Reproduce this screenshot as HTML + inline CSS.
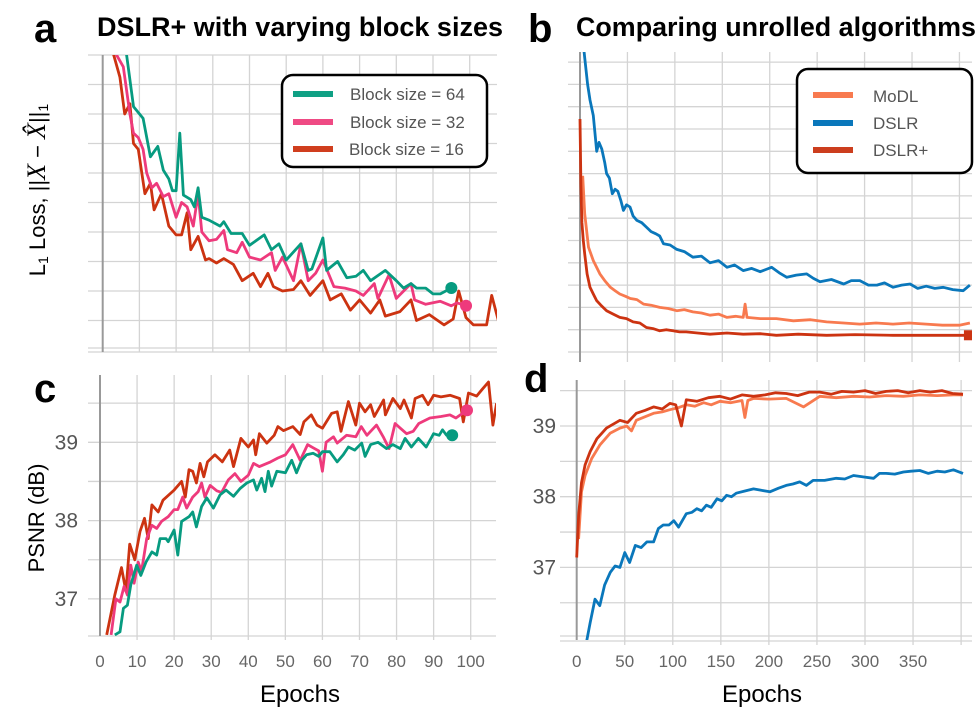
<!DOCTYPE html>
<html><head><meta charset="utf-8"><style>
body{margin:0;background:#fff}
svg{display:block;font-family:"Liberation Sans",sans-serif}
</style></head><body>
<svg id="fig" width="977" height="714" viewBox="0 0 977 714" xmlns="http://www.w3.org/2000/svg">
<defs>
<clipPath id="clipA"><rect x="88" y="55" width="409" height="297"/></clipPath>
<clipPath id="clipB"><rect x="568" y="52" width="404" height="310"/></clipPath>
<clipPath id="clipC"><rect x="88" y="375" width="408" height="261"/></clipPath>
<clipPath id="clipD"><rect x="560" y="380" width="412" height="260"/></clipPath>
</defs>
<g id="grids"></g>
<g id="series"></g>
<g id="texts">
<text x="34" y="42" font-size="40" font-weight="bold">a</text>
<text x="528" y="42" font-size="40" font-weight="bold">b</text>
<text x="34" y="402" font-size="40" font-weight="bold">c</text>
<text x="524" y="392" font-size="40" font-weight="bold">d</text>
<text x="97" y="36" font-size="26.5" font-weight="bold" textLength="406" lengthAdjust="spacingAndGlyphs">DSLR+ with varying block sizes</text>
<text x="576" y="36" font-size="26.5" font-weight="bold" textLength="400" lengthAdjust="spacingAndGlyphs">Comparing unrolled algorithms</text>
<text transform="translate(45,190) rotate(-90)" text-anchor="middle" font-size="22">L<tspan font-size="14" dy="3">1</tspan><tspan dy="-3"> Loss, ||</tspan><tspan font-style="italic" font-family="Liberation Serif" font-size="26">X</tspan> − <tspan font-style="italic" font-family="Liberation Serif" font-size="26">X̂</tspan>||<tspan font-size="14" dy="3">1</tspan></text>
<text transform="translate(44,518) rotate(-90)" text-anchor="middle" font-size="22">PSNR (dB)</text>
<text x="300" y="702" text-anchor="middle" font-size="24">Epochs</text>
<text x="762" y="702" text-anchor="middle" font-size="24">Epochs</text>
</g>
<g id="legends">
<rect x="282" y="75" width="205" height="92" rx="11" fill="#fff" stroke="#000" stroke-width="2.5"/>
<line x1="293" y1="94" x2="333" y2="94" stroke="#0fa084" stroke-width="6"/>
<text x="350" y="100" font-size="17" fill="#555">Block size = 64</text>
<line x1="293" y1="122" x2="333" y2="122" stroke="#ef4a84" stroke-width="6"/>
<text x="350" y="128" font-size="17" fill="#555">Block size = 32</text>
<line x1="293" y1="149" x2="333" y2="149" stroke="#d03e1e" stroke-width="6"/>
<text x="349" y="155" font-size="17" fill="#555">Block size = 16</text>
<rect x="797" y="69" width="175" height="104" rx="11" fill="#fff" stroke="#000" stroke-width="2.5"/>
<line x1="813" y1="95" x2="853" y2="95" stroke="#f87a4f" stroke-width="6"/>
<text x="873" y="102" font-size="17" fill="#555">MoDL</text>
<line x1="813" y1="123" x2="853" y2="123" stroke="#0a77bb" stroke-width="6"/>
<text x="873" y="129" font-size="17" fill="#555">DSLR</text>
<line x1="813" y1="150" x2="853" y2="150" stroke="#cc3e1e" stroke-width="6"/>
<text x="873" y="156" font-size="17" fill="#555">DSLR+</text>
</g>
</svg>
<script>
// ---- Panel a: loss (arbitrary grid units) ----
const aEp64 = [5,6.5,8.4,11,13,15,16.5,18,19,20,21,22,24,25,26,27,29,32,33,35,38,40,44,46,48,50,54,56,57,60,61,64,66.5,69,71,73,77,80,82,84,85.5,88,90,92,95];
const aLoss64 = [11,10,8.25,7.85,6.55,6.9,6.1,5.8,5.4,5.4,7.35,5.25,5.1,4.85,5.5,4.5,4.4,4.2,4.35,3.95,3.95,3.55,3.9,3.4,3.6,3.05,3.6,2.7,2.75,3.8,2.7,3.0,2.45,2.5,2.7,2.35,2.7,2.35,2.1,2.25,2.1,2.1,1.9,1.9,2.1];
const aEp32 = [2.5,3.8,5.6,7.4,8.4,9.7,11,12,13.4,14.7,16.5,18,20,21.5,23,24.7,26,27,29,31,33,34,36.5,38,40,43,46,47,49,52,54,56,58,60,63,66,69,71,74,75,78,80,84,85,88,92,95,96.5,99];
const aLoss32 = [11,10,9.6,8.0,7.35,7.2,6.8,6.0,5.5,5.65,5.2,5.3,4.5,5.0,4.85,4.2,5.3,4.0,3.7,3.75,4.05,3.4,3.3,3.65,3.15,3.05,3.3,2.7,3.15,2.35,3.6,2.35,2.6,3.05,2.15,2.1,2.0,1.85,2.25,1.75,2.55,1.75,2.25,1.7,1.55,1.65,1.5,1.6,1.5];
const aEp16 = [2,3,4.7,6,7.4,8.4,9.7,11.5,13,14,16,18,20,21.5,23,24,26,28,29,31,33,35.6,38,41,43,45,46.5,49,52,54,56.5,60,62,65,67.5,70,73,75.5,77,81,84,85.5,89,93,95.5,97,99,101,104.6,106,108];
const aLoss16 = [11,10,9.25,8.0,8.35,7.0,6.8,5.3,5.65,4.75,5.3,4.2,3.9,3.9,4.65,3.4,3.85,3.05,3.1,2.95,3.1,2.9,2.35,2.6,2.15,2.6,2.15,2.0,2.05,2.35,1.85,2.35,1.7,1.9,1.35,1.7,1.25,1.7,1.15,1.3,1.7,1.0,1.2,0.85,1.05,2.0,1.1,0.85,0.85,1.85,0.9];
// ---- Panel b: loss ----
const bEpDSLR = [3,5,8,10.5,14,17.6,20,23,26,28,31,34,37,40,43,45.7,49,52.7,56,60,65,70,75,80,84,88,95,102,110,119,128,137,146,155,163,172,181,190,196,202,210,218,228,239,246,253,265,278,286,295,304,313,321,330,339,348,356,365,374,383,393,404,411];
const bLossDSLR = [14,13.2,12,11.3,10.6,9.0,9.4,9.1,8.5,8.0,7.8,7.1,7.3,7.2,6.8,6.35,6.6,6.5,6.1,5.9,5.8,5.6,5.4,5.3,5.2,4.85,4.8,4.6,4.5,4.25,4.3,4.0,4.1,3.8,3.9,3.65,3.75,3.6,3.7,3.8,3.55,3.35,3.45,3.5,3.3,3.15,3.25,3.05,3.2,3.2,3.0,3.0,3.1,2.9,3.0,3.05,2.85,2.95,2.85,2.9,2.8,2.75,3.0];
const bEpMoDL = [2.8,5,9,14,21,26,32,37,42,48,53,60,67,75,84,93,102,110,119,128,137,146,155,164,172,174,176,190,207,225,243,260,278,295,312,330,347,365,382,400,411];
const bLossMoDL = [7.9,6.2,4.7,4.1,3.5,3.2,2.9,2.75,2.6,2.5,2.4,2.35,2.15,2.1,2.0,1.95,1.85,1.9,1.8,1.75,1.65,1.7,1.55,1.6,1.55,2.15,1.55,1.5,1.5,1.4,1.45,1.35,1.3,1.25,1.3,1.25,1.3,1.25,1.2,1.2,1.3];
const bEpPlus = [0,1,2,3.5,5,7.5,10.5,14,17.6,22,28,35,42,49,56,63,70,77,84,91,98,105,112,124,137,155,172,190,207,230,260,290,330,365,400,410];
const bLossPlus = [10.45,7.5,5.8,5.0,4.4,3.5,2.9,2.6,2.3,2.1,1.85,1.7,1.55,1.5,1.35,1.3,1.1,1.05,0.95,1.0,0.95,0.9,0.9,0.85,0.8,0.85,0.8,0.82,0.75,0.8,0.75,0.78,0.75,0.75,0.75,0.75];
// ---- Panel c: PSNR ----
const cEp16 = [1.8,4,5.8,7,8,9.4,10.8,12,13,14,15.7,17,20,22,23,24,25,26,27,28,29,31,33,35,36,38,40,41.4,42,43,45,47,48,49.5,52,54,55,57,58.5,60,62.5,64,65,67,69,70,71.5,73,74,76.5,77,79,81,82,84,85,87,88.5,90,92,94.5,97,98,99.4,101.6,103,104.8,106,107];
const cPsnr16 = [36.54,37.05,37.4,37.1,37.7,37.5,37.86,38.03,37.77,38.2,38.11,38.26,38.39,38.5,38.3,38.65,38.63,38.48,38.73,38.56,38.75,38.84,38.75,38.9,38.69,39.05,38.94,39.03,38.84,39.11,38.99,39.09,39.2,39.15,39.2,39.1,39.26,39.35,39.22,39.18,39.37,39.39,39.14,39.52,39.22,39.5,39.39,39.48,39.33,39.54,39.35,39.56,39.43,39.54,39.31,39.56,39.6,39.48,39.6,39.58,39.6,39.56,39.26,39.63,39.59,39.67,39.77,39.22,39.5];
const cEp32 = [3,4.3,5.4,6.5,7.4,8.3,9.2,10.3,11.2,12.6,14,15.3,16.6,18.4,20,21,22.3,23.4,25,26.5,27.4,28.3,29.7,31.5,32.8,34.6,36.4,38,40,41.4,43,46,48,50,52,54,56,57.5,59,60,61,63,64,66.5,69,70.5,72,74.6,76.4,78,79.6,81,82.7,84.5,86,89,92,94.4,96,99];
const cPsnr32 = [36.54,37.0,36.96,37.16,37.05,37.43,37.2,37.47,37.35,37.77,37.94,37.9,37.99,38.05,38.14,38.14,38.3,38.16,38.3,38.37,38.48,38.3,38.45,38.38,38.36,38.52,38.6,38.5,38.58,38.73,38.69,38.75,38.8,38.84,38.97,38.77,38.97,38.93,38.89,38.63,39.0,39.07,38.99,39.09,39.07,39.2,39.09,39.22,39.07,38.92,39.24,39.18,39.11,39.14,39.24,39.31,39.33,39.35,39.31,39.41];
const cEp64 = [4,5.4,6.3,7.4,8.3,9.9,11,12.4,14,15.3,16.2,17.8,18.4,20,21,22,24,25,26,27.4,28.8,30.6,32.4,34,36,37.8,39.6,41.4,42.3,43.6,44.5,45.4,46.3,47.7,50,51.7,53,54.4,55.7,57.5,59,60,62,64,65.6,67,68.7,70.6,71.5,73,75,77.3,79,81,82.3,84,85.9,88,90,91.5,92.4,93.5,95];
const cPsnr64 = [36.54,36.58,36.88,36.92,37.18,37.43,37.3,37.47,37.6,37.56,37.77,37.77,37.73,37.88,37.56,37.99,38.05,38.11,37.92,38.18,38.29,38.16,38.33,38.39,38.31,38.41,38.48,38.52,38.39,38.54,38.37,38.63,38.44,38.63,38.61,38.77,38.61,38.77,38.84,38.86,38.82,38.88,38.88,38.75,38.84,38.94,38.9,38.99,38.82,38.97,39.0,38.92,38.97,38.92,39.05,38.94,39.05,38.94,39.11,39.09,39.16,39.09,39.09];
// ---- Panel d: PSNR ----
const dEpPlus = [0,2,5,8.7,14,21,31,45,53,62,71,80,89,97,103,109,114,125,137,149,160,172,184,196,207,218,230,242,253,265,276,288,300,311,322,334,345,357,368,380,391,402];
const dPsnrPlus = [37.14,37.73,38.2,38.45,38.64,38.82,38.97,39.08,39.05,39.18,39.22,39.27,39.24,39.32,39.3,39.0,39.37,39.35,39.4,39.42,39.38,39.44,39.42,39.44,39.47,39.46,39.43,39.48,39.48,39.45,39.49,39.48,39.5,39.46,39.49,39.5,39.47,39.5,39.48,39.5,39.46,39.45];
const dEpMoDL = [2,5,8.7,15.6,24,35,45,52,57,62,71,80,89,97,106,114,123,132,140,149,160,172,175,178,184,200,218,236,253,270,288,305,322,340,357,375,392,402];
const dPsnrMoDL = [37.4,38.07,38.3,38.54,38.73,38.9,38.97,39.0,38.93,39.08,39.13,39.18,39.2,39.23,39.26,39.3,39.28,39.33,39.3,39.35,39.33,39.36,39.12,39.36,39.39,39.38,39.39,39.27,39.42,39.4,39.42,39.41,39.43,39.42,39.44,39.43,39.44,39.44];
const dEpDSLR = [10.4,14,19,24,29,35,40,45,50,55,61,67,73,80,85,90,96,101,106,114,120,125,130,135,140,146,151,156,161,166,175,184,192,201,210,218,225,232,239,246,258,270,279,288,298,309,315,322,331,340,348,357,366,375,383,392,402];
const dPsnrDSLR = [35.96,36.22,36.55,36.46,36.75,36.93,37.02,37.0,37.21,37.07,37.31,37.28,37.36,37.36,37.55,37.6,37.6,37.66,37.57,37.76,37.78,37.83,37.8,37.88,37.85,37.97,37.94,38.02,38.0,38.05,38.08,38.11,38.09,38.07,38.12,38.16,38.18,38.21,38.16,38.23,38.23,38.26,38.25,38.3,38.28,38.26,38.33,38.33,38.32,38.35,38.36,38.37,38.33,38.36,38.35,38.38,38.33];
// tick labels
const cXTicks = [0,10,20,30,40,50,60,70,80,90,100];
const cYTicks = [37,38,39];
const dXTicks = [0,50,100,150,200,250,300,350];
const dYTicks = [37,38,39];

const NS = 'http://www.w3.org/2000/svg';
const grids = document.getElementById('grids');
const series = document.getElementById('series');
function mk(tag, attrs, parent){const e=document.createElementNS(NS,tag);for(const k in attrs)e.setAttribute(k,attrs[k]);parent.appendChild(e);return e;}

// scales
const xa = e => 102.7 + e*3.67;
const ya = u => 350 - u*29.5;
const xb = e => 580 + e*0.9486;
const yb = u => 352 - u*22.3;
const xc = e => 100 + e*3.707;
const yc = v => 442.3 - (v-39)*78.3;
const xd = e => 576.7 + e*0.961;
const yd = v => 426 - (v-39)*70.7;

function gridH(y,x1,x2){const l=mk('line',{x1:x1,x2:x2,y1:y,y2:y,stroke:'#d4d4d4','stroke-width':1.3},grids);

}
function gridV(x,y1,y2){const l=mk('line',{x1:x,x2:x,y1:y1,y2:y2,stroke:'#d4d4d4','stroke-width':1.3},grids);

}
function zeroLine(x,y1,y2){const l=mk('line',{x1:x,x2:x,y1:y1,y2:y2,stroke:'#999','stroke-width':2},grids);

}

// panel a grid
for(let u=0;u<=10;u++) gridH(ya(u)+(u===0?-2:0),88,497);
gridH(352,88,497);
for(let e=10;e<=100;e+=10) gridV(xa(e),55,352);
zeroLine(xa(0),55,352);
// panel b grid
for(let u=0;u<=13;u++) gridH(yb(u),568,972);
for(let e=50;e<=400;e+=50) gridV(xb(e),52,362);
zeroLine(xb(0),52,362);
// panel c grid
for(let v=37;v<=39.5;v+=0.5) gridH(yc(v),88,496);
gridH(636,88,496);
for(let e=10;e<=100;e+=10) gridV(xc(e),375,640);
zeroLine(xc(0),375,636);
// panel d grid
for(let v=36.5;v<=39.5;v+=0.5) gridH(yd(v),560,972);
gridH(636,560,972); gridH(641,560,972);
for(let e=50;e<=400;e+=50) gridV(xd(e),380,645);
zeroLine(xd(0),380,640);

// tick labels
cXTicks.forEach(t=>{const tx=mk('text',{x:xc(t),y:667,'text-anchor':'middle','font-size':17,fill:'#666'},grids);tx.textContent=t;

});
cYTicks.forEach(t=>{const tx=mk('text',{x:78,y:yc(t)+7,'text-anchor':'end','font-size':21,fill:'#555'},grids);tx.textContent=t;

});
dXTicks.forEach(t=>{const tx=mk('text',{x:xd(t),y:667,'text-anchor':'middle','font-size':17,fill:'#666'},grids);tx.textContent=t;

});
dYTicks.forEach(t=>{const tx=mk('text',{x:556,y:yd(t)+7,'text-anchor':'end','font-size':21,fill:'#555'},grids);tx.textContent=t;

});

function drawLine(xs,ys,sx,sy,color,clip,name,marker){
  const g=mk('g',{'clip-path':'url(#'+clip+')'},series);
  const d=xs.map((x,i)=>(i?'L':'M')+sx(x).toFixed(1)+','+sy(ys[i]).toFixed(1)).join('');
  const p=mk('path',{d:d,fill:'none',stroke:color,'stroke-width':2.8,'stroke-linejoin':'round'},g);
  
  
  if(marker){const n=xs.length-1;
    const c=mk(marker==='sq'?'rect':'circle',marker==='sq'?{x:sx(xs[n])-5,y:sy(ys[n])-5,width:10,height:10,fill:color}:{cx:sx(xs[n]),cy:sy(ys[n]),r:6,fill:color},g);
    
    }
}
drawLine(aEp16,aLoss16,xa,ya,'#cc3311','clipA','line-a-block16');
drawLine(aEp32,aLoss32,xa,ya,'#ee3a7c','clipA','line-a-block32',true);
drawLine(aEp64,aLoss64,xa,ya,'#079b80','clipA','line-a-block64',true);
drawLine(bEpDSLR,bLossDSLR,xb,yb,'#0a77bb','clipB','line-b-dslr');
drawLine(bEpMoDL,bLossMoDL,xb,yb,'#f87a4f','clipB','line-b-modl');
drawLine(bEpPlus,bLossPlus,xb,yb,'#cc3311','clipB','line-b-dslrplus','sq');
drawLine(cEp16,cPsnr16,xc,yc,'#cc3311','clipC','line-c-block16');
drawLine(cEp32,cPsnr32,xc,yc,'#ee3a7c','clipC','line-c-block32',true);
drawLine(cEp64,cPsnr64,xc,yc,'#079b80','clipC','line-c-block64',true);
drawLine(dEpDSLR,dPsnrDSLR,xd,yd,'#0a77bb','clipD','line-d-dslr');
drawLine(dEpMoDL,dPsnrMoDL,xd,yd,'#f87a4f','clipD','line-d-modl');
drawLine(dEpPlus,dPsnrPlus,xd,yd,'#cc3311','clipD','line-d-dslrplus');
</script>
</body></html>
